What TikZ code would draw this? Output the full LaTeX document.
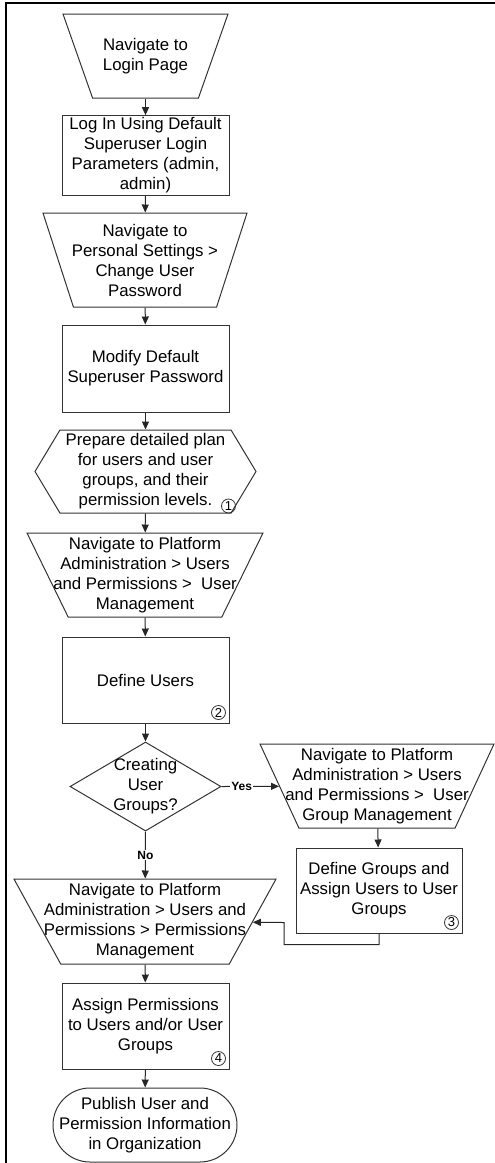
\documentclass[tikz,border=0pt]{standalone}
\usepackage{fontspec}
\setmainfont{Liberation Sans}
\usetikzlibrary{shapes.geometric,shapes.misc,shapes.symbols,arrows.meta,calc}

\begin{document}
\begin{tikzpicture}[x=1pt,y=-1pt,
  font=\fontsize{16.8}{20}\selectfont,
  line width=1pt,
  every label/.style={align=center},
  navbox/.style={draw=black!80,trapezium,shape border rotate=180,trapezium stretches=true,inner sep=1pt},
  stepbox/.style={draw=black!80,rectangle,align=center,minimum width=167pt,inner sep=2pt},
  planbox/.style={draw=black!80,signal,signal to=west and east,signal pointer angle=118,inner sep=1pt},
  choice/.style={draw=black!80,diamond,aspect=1.7,inner sep=1pt},
  finish/.style={draw=black!80,rounded rectangle,inner sep=1pt},
  num/.style={draw=black!80,circle,line width=0.8pt,inner sep=0pt,minimum size=14pt,font=\fontsize{13}{13}\selectfont},
  lbl/.style={fill=white,inner sep=1pt,font=\bfseries\fontsize{12}{12}\selectfont},
  arr/.style={draw=black!85,-{Stealth[inset=0pt,length=8pt,width=7pt]}}]
  \useasboundingbox (0,0) rectangle (495,1163);
  \draw[line width=1.5pt] (6,1163) -- (6,3) -- (495,3);

  \node[navbox,minimum width=165pt,minimum height=84pt,trapezium left angle=74.4,trapezium right angle=74.4,
    label={center:Navigate to\\Login Page}] (login) at (145.5,56) {};
  \node[stepbox,minimum height=77pt] (defaults) at (145.5,155.5) {Log In Using Default\\Superuser Login\\Parameters (admin,\\admin)};
  \node[navbox,minimum width=204pt,minimum height=94pt,trapezium left angle=78,trapezium right angle=78,
    label={center:Navigate to\\Personal Settings >\\Change User\\Password}] (settings) at (145,260) {};
  \node[stepbox,minimum height=87pt] (password) at (145.5,368.5) {Modify Default\\Superuser Password};
  \node[planbox,minimum width=221pt,minimum height=83pt,
    label={center:Prepare detailed plan\\for users and user\\groups, and their\\permission levels.}] (plan) at (145.5,471.5) {};
  \node[navbox,minimum width=236pt,minimum height=84pt,trapezium left angle=75,trapezium right angle=75,
    label={center:Navigate to Platform\\Administration > Users\\and Permissions > \ User\\Management}] (usermgmt) at (145,575) {};
  \node[stepbox,minimum height=86pt] (users) at (145.5,680) {Define Users};
  \node[choice,minimum width=151pt,minimum height=89pt,
    label={center:Creating\\User\\Groups?}] (groupq) at (145.5,786.5) {};
  \node[navbox,minimum width=234pt,minimum height=84pt,trapezium left angle=76,trapezium right angle=76,
    label={center:Navigate to Platform\\Administration > Users\\and Permissions > \ User\\Group Management}] (groupmgmt) at (377,786) {};
  \node[stepbox,minimum width=166pt,minimum height=85pt] (groups) at (379,890.5) {Define Groups and\\Assign Users to User\\Groups};
  \node[navbox,minimum width=262pt,minimum height=85pt,trapezium left angle=74.5,trapezium right angle=74.5,
    label={center:Navigate to Platform\\Administration > Users and\\Permissions > Permissions\\Management}] (permmgmt) at (145,921.5) {};
  \node[stepbox,minimum height=86pt] (perms) at (145.5,1026) {Assign Permissions\\to Users and/or User\\Groups};
  \node[finish,minimum width=186pt,minimum height=74pt,
    label={center:Publish User and\\Permission Information\\in Organization}] (publish) at (145,1125) {};

  % step numbers
  \node[num] (n1) at ($(plan.south)+(83,-7.5)$) {1};
  \node[num] (n2) at ($(users.south east)+(-11,-11)$) {2};
  \node[num] (n3) at ($(groups.south east)+(-11,-11)$) {3};
  \node[num] (n4) at ($(perms.south east)+(-11,-11)$) {4};

  \draw[arr] (login) -- (defaults);
  \draw[arr] (defaults) -- (settings);
  \draw[arr] (settings) -- (password);
  \draw[arr] (password) -- (plan);
  \draw[arr] (plan) -- (usermgmt);
  \draw[arr] (usermgmt) -- (users);
  \draw[arr] (users) -- (groupq);
  \draw[arr] (groupq.east) -- node[lbl,pos=0.35]{Yes} (groupmgmt);
  \draw[arr] (groupq.south) -- node[lbl]{No} (permmgmt);
  \draw[arr] (groupmgmt) -- (groups);
  \draw[arr] (groups.south) -- ++(0,11) -| ++(-95,-22) -- (permmgmt);
  \draw[arr] (permmgmt) -- (perms);
  \draw[arr] (perms) -- (publish);
\end{tikzpicture}
\end{document}
